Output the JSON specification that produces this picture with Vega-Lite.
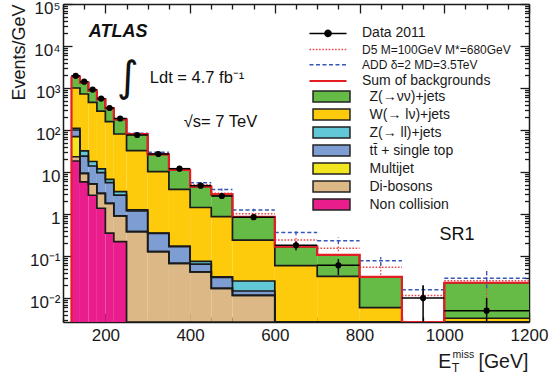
{
  "$schema": "https://vega.github.io/schema/vega-lite/v6.json",
  "width": 466,
  "height": 318,
  "autosize": {"type": "none"},
  "padding": {"left": 63, "top": 4, "right": 21, "bottom": 59},
  "background": "white",
  "config": {
    "font": "Liberation Sans",
    "view": {"stroke": null},
    "axis": {
      "domainColor": "#1a1a1a", "domainWidth": 1.5,
      "tickColor": "#1a1a1a", "tickWidth": 1.3,
      "labelFont": "Liberation Sans", "labelFontSize": 17, "labelColor": "#1a1a1a",
      "titleFont": "Liberation Sans", "titleFontWeight": "normal", "titleColor": "#1a1a1a",
      "grid": false, "zindex": 1, "labelOverlap": false, "labelBound": false, "labelFlush": false
    },
    "legend": {"labelFont": "Liberation Sans", "labelColor": "#1a1a1a"}
  },
  "datasets": {
    "bkg": [
      {"lo":120,"hi":140,"p":"Non collision","n":18.3},{"lo":120,"hi":140,"p":"Di-bosons","n":4.8},{"lo":120,"hi":140,"p":"Multijet","n":46.2},{"lo":120,"hi":140,"p":"tt̄ + single top","n":30.7},{"lo":120,"hi":140,"p":"Z(→ ll)+jets","n":10.0},{"lo":120,"hi":140,"p":"W(→ lν)+jets","n":890},{"lo":120,"hi":140,"p":"Z(→νν)+jets","n":858},
      {"lo":140,"hi":160,"p":"Non collision","n":5.8},{"lo":140,"hi":160,"p":"Di-bosons","n":3.5},{"lo":140,"hi":160,"p":"Multijet","n":0},{"lo":140,"hi":160,"p":"tt̄ + single top","n":14.7},{"lo":140,"hi":160,"p":"Z(→ ll)+jets","n":8.0},{"lo":140,"hi":160,"p":"W(→ lν)+jets","n":688},{"lo":140,"hi":160,"p":"Z(→νν)+jets","n":617},
      {"lo":160,"hi":180,"p":"Non collision","n":2.8},{"lo":160,"hi":180,"p":"Di-bosons","n":2.4},{"lo":160,"hi":180,"p":"Multijet","n":0},{"lo":160,"hi":180,"p":"tt̄ + single top","n":8.7},{"lo":160,"hi":180,"p":"Z(→ ll)+jets","n":3.9},{"lo":160,"hi":180,"p":"W(→ lν)+jets","n":439},{"lo":160,"hi":180,"p":"Z(→νν)+jets","n":405},
      {"lo":180,"hi":200,"p":"Non collision","n":1.37},{"lo":180,"hi":200,"p":"Di-bosons","n":1.74},{"lo":180,"hi":200,"p":"Multijet","n":0},{"lo":180,"hi":200,"p":"tt̄ + single top","n":6.6},{"lo":180,"hi":200,"p":"Z(→ ll)+jets","n":2.1},{"lo":180,"hi":200,"p":"W(→ lν)+jets","n":271},{"lo":180,"hi":200,"p":"Z(→νν)+jets","n":255},
      {"lo":200,"hi":220,"p":"Non collision","n":0.35},{"lo":200,"hi":220,"p":"Di-bosons","n":1.45},{"lo":200,"hi":220,"p":"Multijet","n":0},{"lo":200,"hi":220,"p":"tt̄ + single top","n":3.76},{"lo":200,"hi":220,"p":"Z(→ ll)+jets","n":1.14},{"lo":200,"hi":220,"p":"W(→ lν)+jets","n":151},{"lo":200,"hi":220,"p":"Z(→νν)+jets","n":170},
      {"lo":220,"hi":250,"p":"Non collision","n":0.22},{"lo":220,"hi":250,"p":"Di-bosons","n":0.68},{"lo":220,"hi":250,"p":"Multijet","n":0},{"lo":220,"hi":250,"p":"tt̄ + single top","n":1.93},{"lo":220,"hi":250,"p":"Z(→ ll)+jets","n":0.57},{"lo":220,"hi":250,"p":"W(→ lν)+jets","n":76.9},{"lo":220,"hi":250,"p":"Z(→νν)+jets","n":99.7},
      {"lo":250,"hi":300,"p":"Non collision","n":0},{"lo":250,"hi":300,"p":"Di-bosons","n":0.38},{"lo":250,"hi":300,"p":"Multijet","n":0},{"lo":250,"hi":300,"p":"tt̄ + single top","n":0.80},{"lo":250,"hi":300,"p":"Z(→ ll)+jets","n":0.07},{"lo":250,"hi":300,"p":"W(→ lν)+jets","n":30.9},{"lo":250,"hi":300,"p":"Z(→νν)+jets","n":48.2},
      {"lo":300,"hi":350,"p":"Non collision","n":0},{"lo":300,"hi":350,"p":"Di-bosons","n":0.127},{"lo":300,"hi":350,"p":"Multijet","n":0},{"lo":300,"hi":350,"p":"tt̄ + single top","n":0.22},{"lo":300,"hi":350,"p":"Z(→ ll)+jets","n":0.005},{"lo":300,"hi":350,"p":"W(→ lν)+jets","n":9.85},{"lo":300,"hi":350,"p":"Z(→νν)+jets","n":16.2},
      {"lo":350,"hi":400,"p":"Non collision","n":0},{"lo":350,"hi":400,"p":"Di-bosons","n":0.067},{"lo":350,"hi":400,"p":"Multijet","n":0},{"lo":350,"hi":400,"p":"tt̄ + single top","n":0.099},{"lo":350,"hi":400,"p":"Z(→ ll)+jets","n":0.007},{"lo":350,"hi":400,"p":"W(→ lν)+jets","n":3.70},{"lo":350,"hi":400,"p":"Z(→νν)+jets","n":7.33},
      {"lo":400,"hi":450,"p":"Non collision","n":0},{"lo":400,"hi":450,"p":"Di-bosons","n":0.042},{"lo":400,"hi":450,"p":"Multijet","n":0},{"lo":400,"hi":450,"p":"tt̄ + single top","n":0.022},{"lo":400,"hi":450,"p":"Z(→ ll)+jets","n":0.0103},{"lo":400,"hi":450,"p":"W(→ lν)+jets","n":1.355},{"lo":400,"hi":450,"p":"Z(→νν)+jets","n":3.04},
      {"lo":450,"hi":500,"p":"Non collision","n":0},{"lo":450,"hi":500,"p":"Di-bosons","n":0.017},{"lo":450,"hi":500,"p":"Multijet","n":0},{"lo":450,"hi":500,"p":"tt̄ + single top","n":0.0138},{"lo":450,"hi":500,"p":"Z(→ ll)+jets","n":0.0013},{"lo":450,"hi":500,"p":"W(→ lν)+jets","n":0.830},{"lo":450,"hi":500,"p":"Z(→νν)+jets","n":2.08},
      {"lo":500,"hi":600,"p":"Non collision","n":0},{"lo":500,"hi":600,"p":"Di-bosons","n":0.0115},{"lo":500,"hi":600,"p":"Multijet","n":0},{"lo":500,"hi":600,"p":"tt̄ + single top","n":0.0032},{"lo":500,"hi":600,"p":"Z(→ ll)+jets","n":0.0107},{"lo":500,"hi":600,"p":"W(→ lν)+jets","n":0.2146},{"lo":500,"hi":600,"p":"Z(→νν)+jets","n":0.613},
      {"lo":600,"hi":700,"p":"Non collision","n":0},{"lo":600,"hi":700,"p":"Di-bosons","n":0},{"lo":600,"hi":700,"p":"Multijet","n":0},{"lo":600,"hi":700,"p":"tt̄ + single top","n":0},{"lo":600,"hi":700,"p":"Z(→ ll)+jets","n":0},{"lo":600,"hi":700,"p":"W(→ lν)+jets","n":0.0588},{"lo":600,"hi":700,"p":"Z(→νν)+jets","n":0.108},
      {"lo":700,"hi":800,"p":"Non collision","n":0},{"lo":700,"hi":800,"p":"Di-bosons","n":0},{"lo":700,"hi":800,"p":"Multijet","n":0},{"lo":700,"hi":800,"p":"tt̄ + single top","n":0},{"lo":700,"hi":800,"p":"Z(→ ll)+jets","n":0},{"lo":700,"hi":800,"p":"W(→ lν)+jets","n":0.0329},{"lo":700,"hi":800,"p":"Z(→νν)+jets","n":0.073},
      {"lo":800,"hi":900,"p":"Non collision","n":0},{"lo":800,"hi":900,"p":"Di-bosons","n":0},{"lo":800,"hi":900,"p":"Multijet","n":0},{"lo":800,"hi":900,"p":"tt̄ + single top","n":0},{"lo":800,"hi":900,"p":"Z(→ ll)+jets","n":0},{"lo":800,"hi":900,"p":"W(→ lν)+jets","n":0.0059},{"lo":800,"hi":900,"p":"Z(→νν)+jets","n":0.026},
      {"lo":900,"hi":1000,"p":"Non collision","n":0},{"lo":900,"hi":1000,"p":"Di-bosons","n":0},{"lo":900,"hi":1000,"p":"Multijet","n":0},{"lo":900,"hi":1000,"p":"tt̄ + single top","n":0},{"lo":900,"hi":1000,"p":"Z(→ ll)+jets","n":0},{"lo":900,"hi":1000,"p":"W(→ lν)+jets","n":0},{"lo":900,"hi":1000,"p":"Z(→νν)+jets","n":0},
      {"lo":1000,"hi":1200,"p":"Non collision","n":0},{"lo":1000,"hi":1200,"p":"Di-bosons","n":0},{"lo":1000,"hi":1200,"p":"Multijet","n":0},{"lo":1000,"hi":1200,"p":"tt̄ + single top","n":0},{"lo":1000,"hi":1200,"p":"Z(→ ll)+jets","n":0},{"lo":1000,"hi":1200,"p":"W(→ lν)+jets","n":0.0033},{"lo":1000,"hi":1200,"p":"Z(→νν)+jets","n":0.0198}
    ],
    "obs": [
      {"lo":120,"hi":140,"v":1950,"elo":1940,"ehi":1960},
      {"lo":140,"hi":160,"v":1413,"elo":1405,"ehi":1421},
      {"lo":160,"hi":180,"v":916,"elo":909,"ehi":923},
      {"lo":180,"hi":200,"v":559,"elo":554,"ehi":564},
      {"lo":200,"hi":220,"v":334,"elo":330,"ehi":338},
      {"lo":220,"hi":250,"v":188,"elo":185.5,"ehi":190.5},
      {"lo":250,"hi":300,"v":76,"elo":74.8,"ehi":77.2},
      {"lo":300,"hi":350,"v":26.8,"elo":26.1,"ehi":27.5},
      {"lo":350,"hi":400,"v":12.0,"elo":11.5,"ehi":12.5},
      {"lo":400,"hi":450,"v":4.72,"elo":4.41,"ehi":5.03},
      {"lo":450,"hi":500,"v":2.68,"elo":2.45,"ehi":2.91},
      {"lo":500,"hi":600,"v":0.84,"elo":0.748,"ehi":0.932},
      {"lo":600,"hi":700,"v":0.18,"elo":0.138,"ehi":0.222},
      {"lo":700,"hi":800,"v":0.06,"elo":0.0355,"ehi":0.0845},
      {"lo":900,"hi":1000,"v":0.01,"elo":0,"ehi":0.02},
      {"lo":1000,"hi":1200,"v":0.005,"elo":0,"ehi":0.01}
    ],
    "sig": [
      {"series":"D5 M=100GeV M*=680GeV","lo":120,"hi":140,"v":1870,"elo":1852,"ehi":1888},
      {"series":"D5 M=100GeV M*=680GeV","lo":140,"hi":160,"v":1345,"elo":1333,"ehi":1357},
      {"series":"D5 M=100GeV M*=680GeV","lo":160,"hi":180,"v":868,"elo":860,"ehi":876},
      {"series":"D5 M=100GeV M*=680GeV","lo":180,"hi":200,"v":542,"elo":537,"ehi":547},
      {"series":"D5 M=100GeV M*=680GeV","lo":200,"hi":220,"v":331,"elo":327,"ehi":335},
      {"series":"D5 M=100GeV M*=680GeV","lo":220,"hi":250,"v":182,"elo":180,"ehi":184},
      {"series":"D5 M=100GeV M*=680GeV","lo":250,"hi":300,"v":81.5,"elo":80.3,"ehi":82.7},
      {"series":"D5 M=100GeV M*=680GeV","lo":300,"hi":350,"v":27.5,"elo":26.8,"ehi":28.2},
      {"series":"D5 M=100GeV M*=680GeV","lo":350,"hi":400,"v":11.5,"elo":11.1,"ehi":11.9},
      {"series":"D5 M=100GeV M*=680GeV","lo":400,"hi":450,"v":5.0,"elo":4.75,"ehi":5.25},
      {"series":"D5 M=100GeV M*=680GeV","lo":450,"hi":500,"v":3.11,"elo":2.92,"ehi":3.3},
      {"series":"D5 M=100GeV M*=680GeV","lo":500,"hi":600,"v":1.01,"elo":0.94,"ehi":1.08},
      {"series":"D5 M=100GeV M*=680GeV","lo":600,"hi":700,"v":0.24,"elo":0.21,"ehi":0.27},
      {"series":"D5 M=100GeV M*=680GeV","lo":700,"hi":800,"v":0.153,"elo":0.13,"ehi":0.18},
      {"series":"D5 M=100GeV M*=680GeV","lo":800,"hi":900,"v":0.0538,"elo":0.03,"ehi":0.066},
      {"series":"D5 M=100GeV M*=680GeV","lo":900,"hi":1000,"v":0.0115,"elo":0.008,"ehi":0.016},
      {"series":"D5 M=100GeV M*=680GeV","lo":1000,"hi":1200,"v":0.0258,"elo":0.006,"ehi":0.044},
      {"series":"ADD δ=2 MD=3.5TeV","lo":120,"hi":140,"v":1880,"elo":1862,"ehi":1898},
      {"series":"ADD δ=2 MD=3.5TeV","lo":140,"hi":160,"v":1355,"elo":1342,"ehi":1368},
      {"series":"ADD δ=2 MD=3.5TeV","lo":160,"hi":180,"v":876,"elo":868,"ehi":884},
      {"series":"ADD δ=2 MD=3.5TeV","lo":180,"hi":200,"v":548,"elo":543,"ehi":553},
      {"series":"ADD δ=2 MD=3.5TeV","lo":200,"hi":220,"v":335,"elo":331,"ehi":339},
      {"series":"ADD δ=2 MD=3.5TeV","lo":220,"hi":250,"v":185,"elo":183,"ehi":187},
      {"series":"ADD δ=2 MD=3.5TeV","lo":250,"hi":300,"v":83.5,"elo":82.3,"ehi":84.7},
      {"series":"ADD δ=2 MD=3.5TeV","lo":300,"hi":350,"v":29.4,"elo":28.7,"ehi":30.1},
      {"series":"ADD δ=2 MD=3.5TeV","lo":350,"hi":400,"v":11.8,"elo":11.4,"ehi":12.2},
      {"series":"ADD δ=2 MD=3.5TeV","lo":400,"hi":450,"v":5.56,"elo":5.3,"ehi":5.8},
      {"series":"ADD δ=2 MD=3.5TeV","lo":450,"hi":500,"v":3.83,"elo":3.6,"ehi":4.05},
      {"series":"ADD δ=2 MD=3.5TeV","lo":500,"hi":600,"v":1.245,"elo":1.15,"ehi":1.34},
      {"series":"ADD δ=2 MD=3.5TeV","lo":600,"hi":700,"v":0.363,"elo":0.31,"ehi":0.42},
      {"series":"ADD δ=2 MD=3.5TeV","lo":700,"hi":800,"v":0.231,"elo":0.19,"ehi":0.28},
      {"series":"ADD δ=2 MD=3.5TeV","lo":800,"hi":900,"v":0.0773,"elo":0.058,"ehi":0.095},
      {"series":"ADD δ=2 MD=3.5TeV","lo":900,"hi":1000,"v":0.0157,"elo":0.011,"ehi":0.022},
      {"series":"ADD δ=2 MD=3.5TeV","lo":1000,"hi":1200,"v":0.0294,"elo":0.017,"ehi":0.045}
    ]
  },
  "layer": [
    {
      "data": {"name": "bkg"},
      "transform": [
        {"calculate": "indexof(['Non collision','Di-bosons','Multijet','tt̄ + single top','Z(→ ll)+jets','W(→ lν)+jets','Z(→νν)+jets'], datum.p)", "as": "ord"},
        {"stack": "n", "groupby": ["lo"], "sort": [{"field": "ord", "order": "ascending"}], "as": ["y0", "y1"]}
      ],
      "mark": {"type": "rect", "strokeWidth": 0, "clip": true},
      "encoding": {
        "x": {"field": "lo", "type": "quantitative", "scale": {"domain": [100, 1200], "nice": false, "zero": false},
          "axis": {"orient": "bottom", "values": [100,150,200,250,300,350,400,450,500,550,600,650,700,750,800,850,900,950,1000,1050,1100,1150,1200],
            "labelExpr": "datum.value % 200 === 0 ? format(datum.value, 'd') : ''",
            "tickSize": {"condition": {"test": "datum.value % 200 === 0", "value": -9}, "value": -5},
            "labelPadding": 14, "title": null}},
        "x2": {"field": "hi"},
        "y": {"field": "y1", "type": "quantitative", "scale": {"type": "log", "domain": [0.002684, 100000], "nice": false, "clamp": true},
          "axis": {"orient": "left", "values": [0.003,0.004,0.005,0.006,0.007,0.008,0.009,0.01,0.02,0.03,0.04,0.05,0.06,0.07,0.08,0.09,0.1,0.2,0.3,0.4,0.5,0.6,0.7,0.8,0.9,1,2,3,4,5,6,7,8,9,10,20,30,40,50,60,70,80,90,100,200,300,400,500,600,700,800,900,1000,2000,3000,4000,5000,6000,7000,8000,9000,10000,20000,30000,40000,50000,60000,70000,80000,90000,100000],
            "labelExpr": "abs(log(datum.value)/LN10 - round(log(datum.value)/LN10)) > 0.001 ? '' : (round(log(datum.value)/LN10) === 5 ? '10⁵' : round(log(datum.value)/LN10) === 4 ? '10⁴' : round(log(datum.value)/LN10) === 3 ? '10³' : round(log(datum.value)/LN10) === 2 ? '10²' : round(log(datum.value)/LN10) === 1 ? '10' : round(log(datum.value)/LN10) === 0 ? '1' : round(log(datum.value)/LN10) === -1 ? '10⁻¹' : '10⁻²')",
            "tickSize": {"condition": {"test": "abs(log(datum.value)/LN10 - round(log(datum.value)/LN10)) < 0.001", "value": -9}, "value": -4.5},
            "labelPadding": 12, "labelOffset": 4, "title": "Events/GeV", "titleFontSize": 18, "titleAnchor": "end", "titlePadding": 1}},
        "y2": {"field": "y0"},
        "fill": {"field": "p", "type": "nominal",
          "scale": {"domain": ["Z(→νν)+jets","W(→ lν)+jets","Z(→ ll)+jets","tt̄ + single top","Multijet","Di-bosons","Non collision"],
                    "range": ["#66bb46","#fdca0c","#62c7d6","#7d9dd3","#f1e61f","#ddb887","#ea1d8c"]},
          "legend": {"orient": "none", "legendX": 249, "legendY": 83.6, "title": null, "padding": 0,
            "symbolType": "M-2.31,-0.69H2.31V0.69H-2.31Z", "symbolSize": 256, "symbolOffset": 10.5, "labelOffset": 29,
            "labelFontSize": 14, "labelLimit": 300, "rowPadding": 0,
            "encode": {"symbols": {"update": {"stroke": {"value": "#222222"}, "strokeWidth": {"value": 1.5}}}}}}
      }
    },
    {
      "data": {"name": "bkg"},
      "transform": [
        {"calculate": "indexof(['Non collision','Di-bosons','Multijet','tt̄ + single top','Z(→ ll)+jets','W(→ lν)+jets','Z(→νν)+jets'], datum.p)", "as": "ord"},
        {"stack": "n", "groupby": ["lo"], "sort": [{"field": "ord", "order": "ascending"}], "as": ["y0", "y1"]},
        {"fold": ["lo", "hi"], "as": ["edge", "ex"]}
      ],
      "mark": {"type": "line", "stroke": "#1a1a1a", "strokeWidth": 1.7, "strokeJoin": "miter", "clip": true},
      "encoding": {
        "x": {"field": "ex", "type": "quantitative", "scale": {"domain": [100, 1200], "nice": false, "zero": false},
          "axis": {"orient": "top", "labels": false, "title": null, "values": [100,150,200,250,300,350,400,450,500,550,600,650,700,750,800,850,900,950,1000,1050,1100,1150,1200],
            "tickSize": {"condition": {"test": "datum.value % 200 === 0", "value": -9}, "value": -5}}},
        "y": {"field": "y1", "type": "quantitative", "scale": {"type": "log", "domain": [0.002684, 100000], "nice": false, "clamp": true},
          "axis": {"orient": "right", "labels": false, "title": null, "values": [0.003,0.004,0.005,0.006,0.007,0.008,0.009,0.01,0.02,0.03,0.04,0.05,0.06,0.07,0.08,0.09,0.1,0.2,0.3,0.4,0.5,0.6,0.7,0.8,0.9,1,2,3,4,5,6,7,8,9,10,20,30,40,50,60,70,80,90,100,200,300,400,500,600,700,800,900,1000,2000,3000,4000,5000,6000,7000,8000,9000,10000,20000,30000,40000,50000,60000,70000,80000,90000,100000],
            "tickSize": {"condition": {"test": "abs(log(datum.value)/LN10 - round(log(datum.value)/LN10)) < 0.001", "value": -9}, "value": -4.5}}},
        "detail": {"field": "p", "type": "nominal"},
        "order": [{"field": "ex", "type": "quantitative"}, {"field": "edge", "type": "nominal"}]
      }
    },
    {
      "data": {"name": "sig"},
      "transform": [{"filter": "datum.series === 'D5 M=100GeV M*=680GeV'"}, {"calculate": "(datum.lo + datum.hi) / 2", "as": "c"}],
      "layer": [
        {"mark": {"type": "rule", "strokeWidth": 1.5, "strokeDash": [1.6, 1.6], "clip": true},
         "encoding": {"x": {"field": "lo", "type": "quantitative", "axis": null}, "x2": {"field": "hi"}, "y": {"field": "v", "type": "quantitative", "axis": null}}},
        {"mark": {"type": "rule", "strokeWidth": 1.3, "strokeDash": [1.6, 1.6], "clip": true},
         "encoding": {"x": {"field": "c", "type": "quantitative", "axis": null}, "y": {"field": "elo", "type": "quantitative", "axis": null}, "y2": {"field": "ehi"}}}
      ],
      "encoding": {
        "stroke": {"field": "series", "type": "nominal",
          "scale": {"domain": ["Data 2011", "D5 M=100GeV M*=680GeV", "ADD δ=2 MD=3.5TeV", "Sum of backgrounds"], "range": ["#000000", "#e8434a", "#3557b7", "#e31e24"]},
          "legend": {"orient": "none", "legendX": 249, "legendY": 23.4, "title": null, "padding": 0,
            "symbolType": "M-2.18,0H2.18", "symbolSize": 289, "symbolOffset": 10, "labelOffset": 28, "symbolStrokeWidth": 1.5,
            "labelFontSize": 14, "labelLimit": 300, "rowPadding": 3.2,
            "encode": {
              "symbols": {"update": {
                "shape": {"signal": "datum.value === 'Data 2011' ? 'M-2.18,0H2.18M0.36,0A0.36,0.36,0,1,1,-0.36,0A0.36,0.36,0,1,1,0.36,0' : 'M-2.18,0H2.18'"},
                "fill": {"signal": "datum.value === 'Data 2011' ? '#000000' : 'transparent'"},
                "strokeDash": {"signal": "datum.value === 'ADD δ=2 MD=3.5TeV' ? [4, 2.5] : datum.value === 'D5 M=100GeV M*=680GeV' ? [1.6, 1.6] : [1, 0]"},
                "strokeWidth": {"signal": "datum.value === 'Sum of backgrounds' ? 2.2 : 1.5"}}},
              "labels": {"update": {"fontSize": {"signal": "datum.value === 'Data 2011' || datum.value === 'Sum of backgrounds' ? 14 : 12"}}}}}}
      }
    },
    {
      "data": {"name": "sig"},
      "transform": [{"filter": "datum.series === 'ADD δ=2 MD=3.5TeV'"}, {"calculate": "(datum.lo + datum.hi) / 2", "as": "c"}],
      "layer": [
        {"mark": {"type": "rule", "strokeWidth": 1.5, "strokeDash": [4, 2.5], "clip": true},
         "encoding": {"x": {"field": "lo", "type": "quantitative", "axis": null}, "x2": {"field": "hi"}, "y": {"field": "v", "type": "quantitative", "axis": null}}},
        {"mark": {"type": "rule", "strokeWidth": 1.3, "strokeDash": [4, 2.5], "clip": true},
         "encoding": {"x": {"field": "c", "type": "quantitative", "axis": null}, "y": {"field": "elo", "type": "quantitative", "axis": null}, "y2": {"field": "ehi"}}}
      ],
      "encoding": {
        "stroke": {"field": "series", "type": "nominal",
          "scale": {"domain": ["Data 2011", "D5 M=100GeV M*=680GeV", "ADD δ=2 MD=3.5TeV", "Sum of backgrounds"], "range": ["#000000", "#e8434a", "#3557b7", "#e31e24"]}}
      }
    },
    {
      "data": {"name": "bkg"},
      "transform": [
        {"calculate": "indexof(['Non collision','Di-bosons','Multijet','tt̄ + single top','Z(→ ll)+jets','W(→ lν)+jets','Z(→νν)+jets'], datum.p)", "as": "ord"},
        {"stack": "n", "groupby": ["lo"], "sort": [{"field": "ord", "order": "ascending"}], "as": ["y0", "y1"]},
        {"filter": "datum.p === 'Z(→νν)+jets'"},
        {"calculate": "'Sum of backgrounds'", "as": "series"},
        {"fold": ["lo", "hi"], "as": ["edge", "ex"]}
      ],
      "mark": {"type": "line", "strokeWidth": 2.2, "strokeJoin": "miter", "clip": true},
      "encoding": {
        "x": {"field": "ex", "type": "quantitative", "axis": null},
        "y": {"field": "y1", "type": "quantitative", "axis": null},
        "order": [{"field": "ex", "type": "quantitative"}, {"field": "edge", "type": "nominal"}],
        "stroke": {"field": "series", "type": "nominal",
          "scale": {"domain": ["Data 2011", "D5 M=100GeV M*=680GeV", "ADD δ=2 MD=3.5TeV", "Sum of backgrounds"], "range": ["#000000", "#e8434a", "#3557b7", "#e31e24"]}}
      }
    },
    {
      "data": {"name": "bkg"},
      "transform": [
        {"calculate": "indexof(['Non collision','Di-bosons','Multijet','tt̄ + single top','Z(→ ll)+jets','W(→ lν)+jets','Z(→νν)+jets'], datum.p)", "as": "ord"},
        {"stack": "n", "groupby": ["lo"], "sort": [{"field": "ord", "order": "ascending"}], "as": ["y0", "y1"]},
        {"filter": "datum.p === 'Z(→νν)+jets' && datum.lo === 120"}
      ],
      "mark": {"type": "rule", "strokeWidth": 2.2, "stroke": "#e31e24", "clip": true},
      "encoding": {
        "x": {"field": "lo", "type": "quantitative", "axis": null},
        "y": {"field": "y1", "type": "quantitative", "axis": null},
        "y2": {"datum": 0}
      }
    },
    {
      "data": {"name": "obs"},
      "transform": [{"calculate": "'Data 2011'", "as": "series"}, {"calculate": "(datum.lo + datum.hi) / 2", "as": "c"}],
      "layer": [
        {"mark": {"type": "rule", "strokeWidth": 1.5, "clip": true},
         "encoding": {"x": {"field": "lo", "type": "quantitative", "axis": null}, "x2": {"field": "hi"}, "y": {"field": "v", "type": "quantitative", "axis": null},
           "stroke": {"field": "series", "type": "nominal", "scale": {"domain": ["Data 2011", "D5 M=100GeV M*=680GeV", "ADD δ=2 MD=3.5TeV", "Sum of backgrounds"], "range": ["#000000", "#e8434a", "#3557b7", "#e31e24"]}}}},
        {"mark": {"type": "rule", "strokeWidth": 1.5, "clip": true},
         "encoding": {"x": {"field": "c", "type": "quantitative", "axis": null}, "y": {"field": "elo", "type": "quantitative", "axis": null}, "y2": {"field": "ehi"},
           "stroke": {"field": "series", "type": "nominal", "scale": {"domain": ["Data 2011", "D5 M=100GeV M*=680GeV", "ADD δ=2 MD=3.5TeV", "Sum of backgrounds"], "range": ["#000000", "#e8434a", "#3557b7", "#e31e24"]}}}},
        {"mark": {"type": "point", "filled": true, "fill": "#000000", "opacity": 1, "size": 38, "clip": true},
         "encoding": {"x": {"field": "c", "type": "quantitative", "axis": null}, "y": {"field": "v", "type": "quantitative", "axis": null}}}
      ]
    },
    {
      "data": {"values": [{}]},
      "mark": {"type": "text", "text": "ATLAS", "font": "Liberation Sans", "fontSize": 18, "fontWeight": "bold", "fontStyle": "italic", "align": "left", "baseline": "middle", "color": "#111111"},
      "encoding": {"x": {"datum": 161, "type": "quantitative", "axis": null}, "y": {"datum": 21900, "type": "quantitative", "axis": null}}
    },
    {
      "data": {"values": [{}]},
      "mark": {"type": "text", "text": "∫", "font": "DejaVu Sans", "fontSize": 42, "align": "center", "baseline": "middle", "color": "#111111"},
      "encoding": {"x": {"datum": 253, "type": "quantitative", "axis": null}, "y": {"datum": 1737, "type": "quantitative", "axis": null}}
    },
    {
      "data": {"values": [{}]},
      "mark": {"type": "text", "text": "Ldt = 4.7 fb⁻¹", "font": "Liberation Sans", "fontSize": 16.5, "align": "left", "baseline": "middle", "color": "#111111"},
      "encoding": {"x": {"datum": 305, "type": "quantitative", "axis": null}, "y": {"datum": 1702, "type": "quantitative", "axis": null}}
    },
    {
      "data": {"values": [{}]},
      "mark": {"type": "text", "text": "√s= 7 TeV", "font": "Liberation Sans", "fontSize": 16.5, "align": "left", "baseline": "middle", "color": "#111111"},
      "encoding": {"x": {"datum": 385, "type": "quantitative", "axis": null}, "y": {"datum": 157.7, "type": "quantitative", "axis": null}}
    },
    {
      "data": {"values": [{}]},
      "mark": {"type": "text", "text": "SR1", "font": "Liberation Sans", "fontSize": 18, "align": "left", "baseline": "middle", "color": "#111111"},
      "encoding": {"x": {"datum": 989, "type": "quantitative", "axis": null}, "y": {"datum": 0.316, "type": "quantitative", "axis": null}}
    },
    {
      "data": {"values": [{}]},
      "mark": {"type": "text", "text": "E", "font": "Liberation Sans", "fontSize": 19.5, "align": "left", "baseline": "middle", "dy": 40, "color": "#1a1a1a"},
      "encoding": {"x": {"datum": 985.5, "type": "quantitative", "axis": null}, "y": {"datum": 0.002684, "type": "quantitative", "axis": null}}
    },
    {
      "data": {"values": [{}]},
      "mark": {"type": "text", "text": "miss", "font": "Liberation Sans", "fontSize": 10.5, "align": "left", "baseline": "middle", "dy": 32.5, "color": "#1a1a1a"},
      "encoding": {"x": {"datum": 1019.6, "type": "quantitative", "axis": null}, "y": {"datum": 0.002684, "type": "quantitative", "axis": null}}
    },
    {
      "data": {"values": [{}]},
      "mark": {"type": "text", "text": "T", "font": "Liberation Sans", "fontSize": 12.5, "align": "left", "baseline": "middle", "dy": 45.5, "color": "#1a1a1a"},
      "encoding": {"x": {"datum": 1017.4, "type": "quantitative", "axis": null}, "y": {"datum": 0.002684, "type": "quantitative", "axis": null}}
    },
    {
      "data": {"values": [{}]},
      "mark": {"type": "text", "text": "[GeV]", "font": "Liberation Sans", "fontSize": 19.5, "align": "right", "baseline": "middle", "dy": 40, "color": "#1a1a1a"},
      "encoding": {"x": {"datum": 1198.5, "type": "quantitative", "axis": null}, "y": {"datum": 0.002684, "type": "quantitative", "axis": null}}
    }
  ],
  "resolve": {"axis": {"x": "independent", "y": "independent"}}
}
